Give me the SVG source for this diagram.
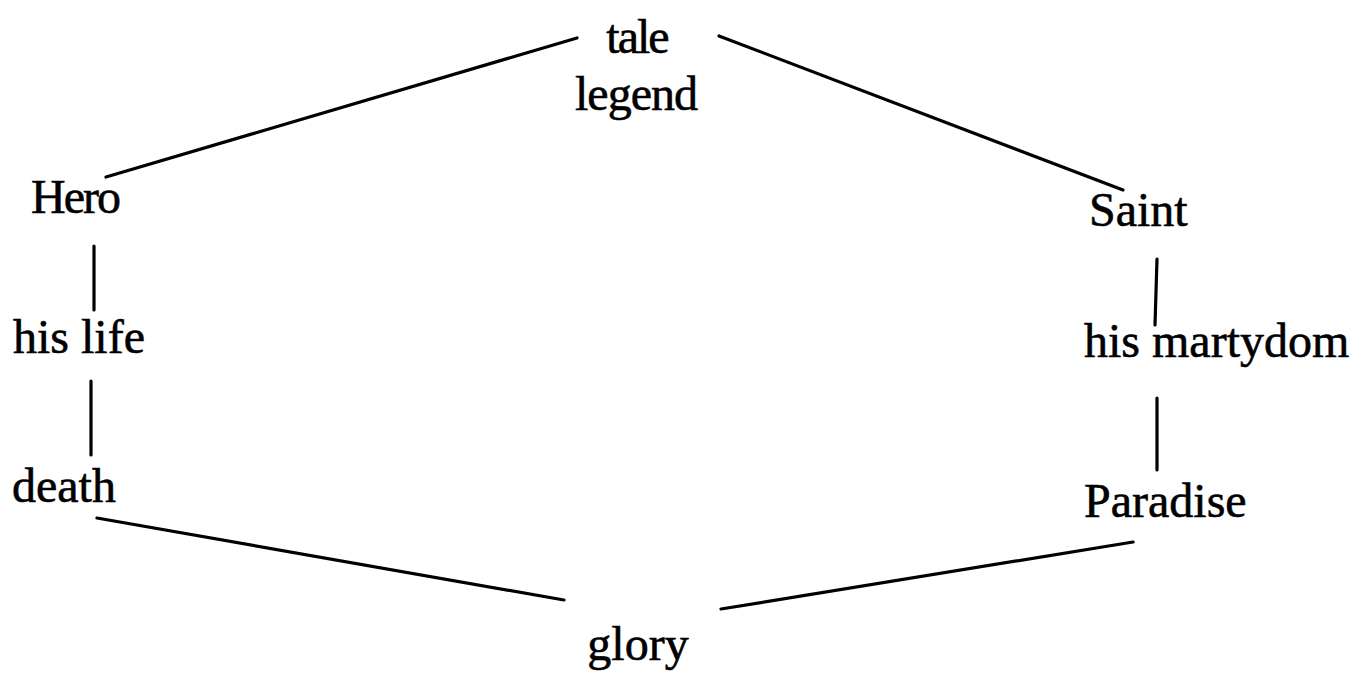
<svg xmlns="http://www.w3.org/2000/svg" width="1363" height="677" viewBox="0 0 1363 677">
<style>
.lbl{font-family:"Liberation Serif","Times New Roman",serif;font-size:48px;fill:#000;stroke:#000;stroke-width:0.6}
.c line{stroke:#000;stroke-width:3.2;stroke-linecap:round}
</style>
<rect width="1363" height="677" fill="#fff"/>
<g class="c" id="connectors">
<line x1="577" y1="38" x2="106" y2="177"/>
<line x1="719" y1="36" x2="1123" y2="190"/>
<line x1="94" y1="246" x2="94" y2="310"/>
<line x1="91" y1="381" x2="91" y2="455"/>
<line x1="1157" y1="259" x2="1155" y2="325"/>
<line x1="1157" y1="398" x2="1157" y2="470"/>
<line x1="97" y1="518" x2="564" y2="600"/>
<line x1="1133" y1="542" x2="721" y2="609"/>
</g>
<g id="tale"><text class="lbl" x="637" y="53" text-anchor="middle" letter-spacing="-2">tale</text><text class="lbl" x="636" y="110" text-anchor="middle" letter-spacing="-1">legend</text></g>
<g id="hero"><text class="lbl" x="31" y="213" letter-spacing="-2">Hero</text></g>
<g id="saint"><text class="lbl" x="1089" y="226">Saint</text></g>
<g id="hislife"><text class="lbl" x="13" y="353">his life</text></g>
<g id="martydom"><text class="lbl" x="1084" y="357">his martydom</text></g>
<g id="death"><text class="lbl" x="12" y="502">death</text></g>
<g id="paradise"><text class="lbl" x="1084" y="517">Paradise</text></g>
<g id="glory"><text class="lbl" x="638" y="660" text-anchor="middle">glory</text></g>
</svg>
